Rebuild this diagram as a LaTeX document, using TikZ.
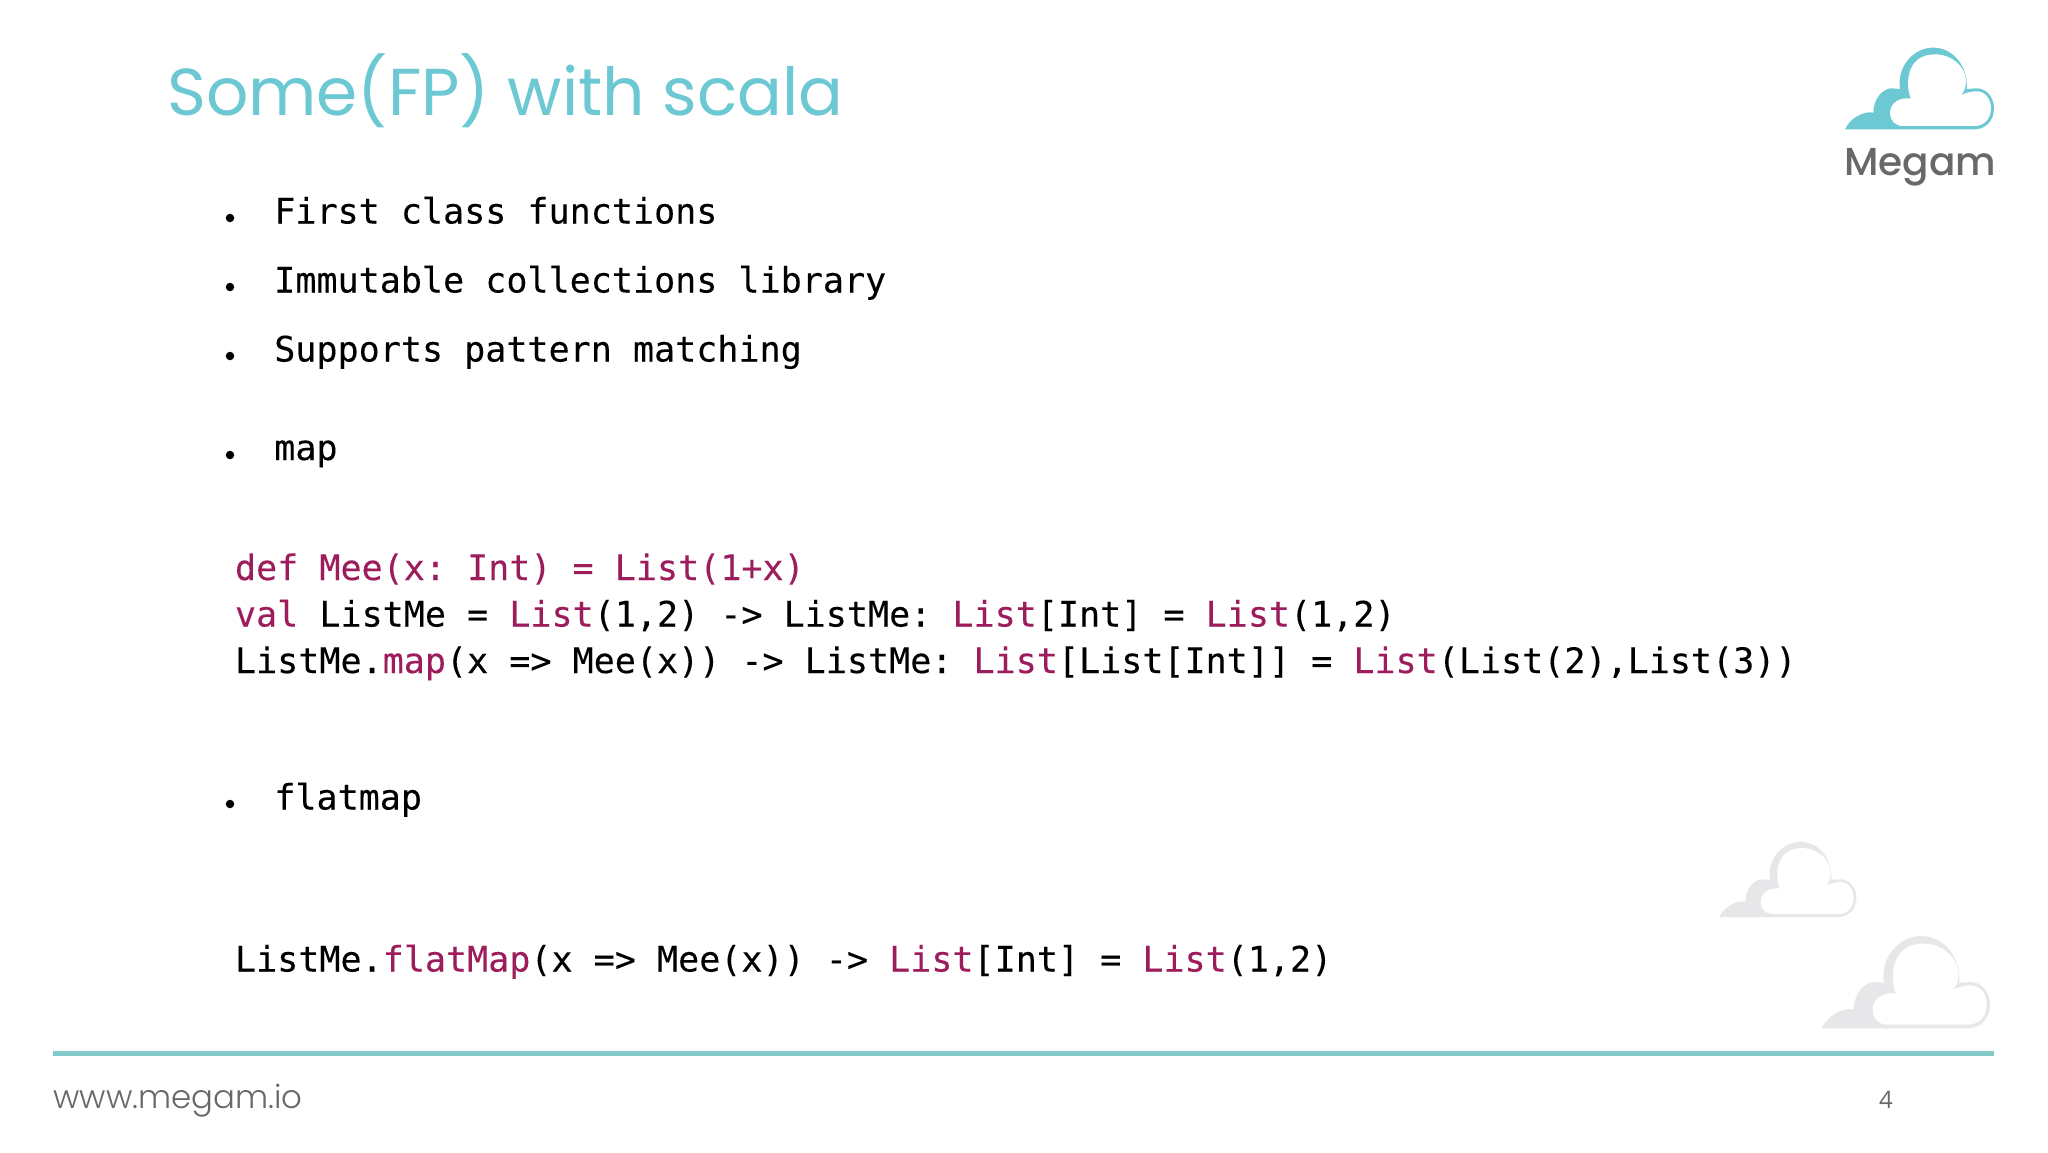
\documentclass[tikz,border=0pt]{standalone}
\usepackage{fontspec}
\setmonofont[FakeBold=0.15]{DejaVu Sans Mono}
\newfontfamily\titlefont{Poppins}
\newfontfamily\urlfont[UprightFont={* Light}]{Poppins}
\newfontfamily\logofont[UprightFont={* Medium}]{Poppins}
\newfontfamily\numfont{Open Sans}
\definecolor{teal1}{HTML}{6CC8D2}
\definecolor{rulec}{HTML}{83CBCB}
\definecolor{maroon1}{HTML}{9C1C5C}
\definecolor{grey1}{HTML}{686868}
\definecolor{cloudg}{HTML}{E7E7E9}
\newcommand{\kw}[1]{\textcolor{maroon1}{#1}}
\newcommand{\megamcloud}[4]{%
\begin{scope}[shift={(#2,#3)},scale=#4/3]
\fill[#1] (0,0) .. controls (15,-33) and (55,-56) .. (85,-50)
 .. controls (85,-93) and (115,-123) .. (140,-123) -- (165,-121)
 .. controls (155,-188) and (205,-245) .. (265,-245)
 .. controls (325,-245) and (370,-188) .. (365,-121) -- (395,-123)
 .. controls (425,-123) and (447,-95) .. (447,-63)
 .. controls (447,-25) and (420,0) .. (390,0) -- cycle;
\fill[white] (173,-10) .. controls (150,-10) and (135,-28) .. (135,-48)
 .. controls (135,-78) and (160,-96) .. (197,-93)
 .. controls (180,-138) and (185,-225) .. (270,-225)
 .. controls (320,-225) and (363,-188) .. (363,-143)
 .. controls (363,-125) and (356,-110) .. (348,-103)
 .. controls (365,-110) and (380,-114) .. (395,-114)
 .. controls (423,-114) and (438,-88) .. (438,-63)
 .. controls (438,-30) and (415,-10) .. (390,-10) -- cycle;
\end{scope}}
\tikzset{
 code/.style={anchor=base west,inner sep=0pt,outer sep=0pt,font=\ttfamily\fontsize{35.05}{40}\selectfont,text=black},
 dotb/.style={circle,fill=black,inner sep=0pt,minimum size=8.5pt}
}
\begin{document}
\begin{tikzpicture}[x=1pt,y=-1pt]
\useasboundingbox[fill=white] (0,0) rectangle (2048,1152);
\node[anchor=base west,inner sep=0pt,text=teal1,font=\titlefont\fontsize{66.3}{80}\selectfont] (title) at (167,115) {Some(FP) with scala};
\megamcloud{teal1}{1845}{129.3}{1}
\megamcloud{cloudg}{1719.3}{917}{0.92}
\megamcloud{cloudg}{1821.7}{1028.3}{1.13}
\node[anchor=base west,inner sep=0pt,text=grey1,font=\logofont\fontsize{39}{46}\selectfont] (logo) at (1844,175) {Megam};
\node[dotb] (b1) at (230,218) {};
\node[code] (t1) at (274.3,223.5) {First class functions};
\node[dotb] (b2) at (230,287) {};
\node[code] (t2) at (274.3,292.5) {Immutable collections library};
\node[dotb] (b3) at (230,356) {};
\node[code] (t3) at (274.3,361.5) {Supports pattern matching};
\node[dotb] (b4) at (230,455) {};
\node[code] (t4) at (274.3,460) {map};
\node[code] (c1) at (235,580) {\kw{def Mee(x: Int) = List(1+x)}};
\node[code] (c2) at (235,626.5) {\kw{val} ListMe = \kw{List}(1,2) -> ListMe: \kw{List}[Int] = \kw{List}(1,2)};
\node[code] (c3) at (235,673) {ListMe.\kw{map}(x => Mee(x)) -> ListMe: \kw{List}[List[Int]] = \kw{List}(List(2),List(3))};
\node[dotb] (b5) at (230,804) {};
\node[code] (t5) at (274.3,809.5) {flatmap};
\node[code] (c4) at (235,971.5) {ListMe.\kw{flatMap}(x => Mee(x)) -> \kw{List}[Int] = \kw{List}(1,2)};
\coordinate (rl) at (53,1053);
\coordinate (rr) at (1994,1053);
\draw[rulec,line width=5pt] (rl) -- (rr);
\node[anchor=base west,inner sep=0pt,text=grey1,font=\urlfont\fontsize{32.4}{36}\selectfont] (url) at (53,1108) {www.megam.io};
\node[anchor=base,inner sep=0pt,text=grey1,font=\numfont\fontsize{24}{26}\selectfont] (num) at (1886,1108) {4};
\end{tikzpicture}
\end{document}
